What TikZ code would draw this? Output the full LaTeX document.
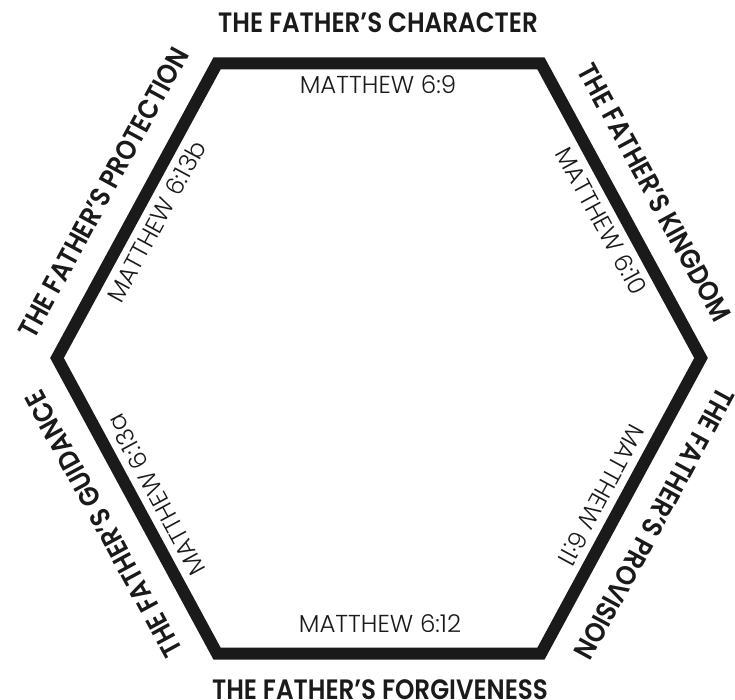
\documentclass[tikz,border=0pt]{standalone}
\usepackage{fontspec}
\newfontfamily\titlefont{Poppins SemiBold}
\newfontfamily\reffont{Poppins Light}
\definecolor{ink}{HTML}{1A1A1A}
\newcommand{\ttl}[1]{\scalebox{0.88}[1]{#1}}
\tikzset{
  hexline/.style={draw=ink,line width=12pt,line join=miter},
  titlelbl/.style={font=\titlefont\fontsize{28}{28}\selectfont,text=ink,inner sep=0pt},
  reflbl/.style={font=\reffont\fontsize{24.5}{24.5}\selectfont,text=ink,inner sep=0pt},
}
\begin{document}
\begin{tikzpicture}[x=1pt,y=-1pt]
\useasboundingbox (0,0) rectangle (735,700);
\coordinate (TL) at (217,63.5);
\coordinate (TR) at (541,63.5);
\coordinate (R) at (701,358);
\coordinate (BR) at (541,653.5);
\coordinate (BL) at (217,653.5);
\coordinate (L) at (57,358);
\draw[hexline] (TL) -- (TR) -- (R) -- (BR) -- (BL) -- (L) -- cycle;
% titles
\node[titlelbl] (tTop) at (378,23) {\ttl{THE FATHER’S CHARACTER}};
\node[titlelbl] (tBot) at (380,690) {\ttl{THE FATHER’S FORGIVENESS}};
\node[titlelbl,rotate=61.5] (tUL) at (103.6,192.6) {\ttl{THE FATHER’S PROTECTION}};
\node[titlelbl,rotate=-61.5] (tUR) at (654.4,192.6) {\ttl{THE FATHER’S KINGDOM}};
\node[titlelbl,rotate=-118.5] (tLR) at (654.4,523.9) {\ttl{THE FATHER’S PROVISION}};
\node[titlelbl,rotate=118.5] (tLL) at (103.6,523.9) {\ttl{THE FATHER’S GUIDANCE}};
% references
\node[reflbl] (rTop) at (378,85) {MATTHEW 6:9};
\node[reflbl] (rBot) at (380,624) {MATTHEW 6:12};
\node[reflbl,rotate=61.5] (rUL) at (156.3,221.25) {MATTHEW 6:13b};
\node[reflbl,rotate=-61.5] (rUR) at (601.7,221.25) {MATTHEW 6:10};
\node[reflbl,rotate=-118.5] (rLR) at (601.7,495.25) {MATTHEW 6:11};
\node[reflbl,rotate=118.5] (rLL) at (156.3,495.25) {MATTHEW 6:13a};
\end{tikzpicture}
\end{document}
